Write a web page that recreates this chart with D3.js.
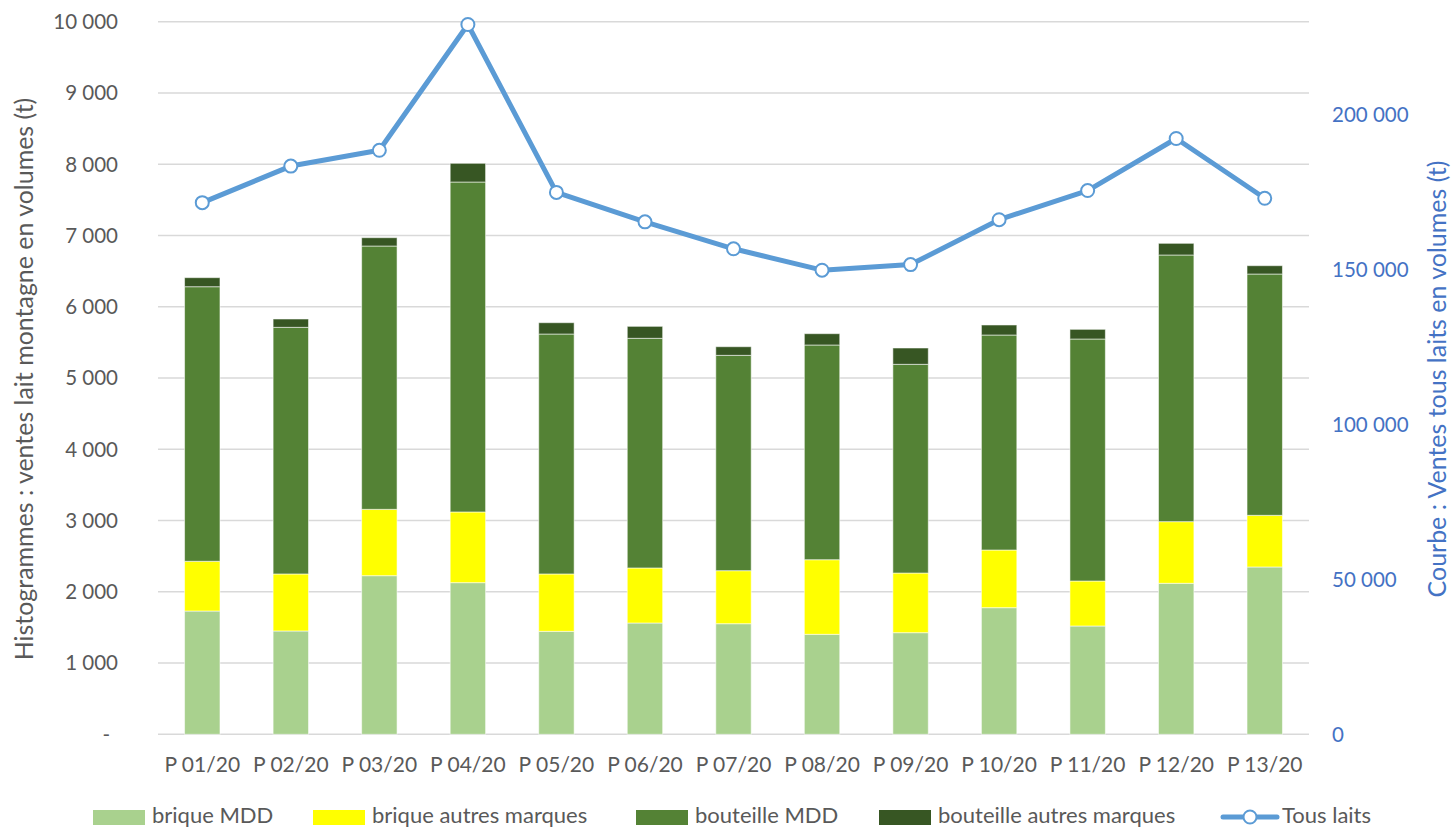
<!DOCTYPE html>
<html>
<head>
<meta charset="utf-8">
<script src="https://cdn.jsdelivr.net/npm/d3@7"></script>
<style>
  html, body { margin: 0; padding: 0; background: #fff; }
  svg text { font-family: Lato, "Open Sans", sans-serif; }
</style>
</head>
<body>
<svg id="chart" width="1451" height="829"></svg>
<script>
// Periods (4-week periods of 2020)
const periods = ["P 01/20","P 02/20","P 03/20","P 04/20","P 05/20","P 06/20","P 07/20",
                 "P 08/20","P 09/20","P 10/20","P 11/20","P 12/20","P 13/20"];

// Mountain milk sales by pack type (t)
const briqueMDD        = [1730,1450,2226,2128,1445,1562,1552,1403,1426,1777,1520,2119,2348];
const briqueAutres     = [ 698, 800, 931, 992, 805, 772, 744,1047, 837, 809, 631, 865, 725];
const bouteilleMDD     = [3853,3461,3695,4630,3367,3223,3022,3013,2929,3017,3396,3742,3386];
const bouteilleAutres  = [ 127, 117, 117, 263, 159, 168, 121, 159, 229, 141, 136, 164, 117];

// All milks sales (t), right axis
const tousLaits = [171600,183400,188500,229100,174900,165400,156700,149800,151600,166100,175500,192300,173000];

const leftTicks  = [0,1000,2000,3000,4000,5000,6000,7000,8000,9000,10000];
const rightTicks = [0,50000,100000,150000,200000];

const seriesNames  = ["brique MDD","brique autres marques","bouteille MDD","bouteille autres marques"];
const seriesColors = ["#A9D18E","#FFFF00","#548235","#375623"];
const lineName = "Tous laits";
const lineColor = "#5B9BD5";

const leftTitle  = "Histogrammes : ventes lait montagne en volumes (t)";
const rightTitle = "Courbe : Ventes tous laits en volumes (t)";

const svg = d3.select("#chart");
const plot = { left: 158, right: 1309, top: 21.7, bottom: 734.3 };

const x = d3.scaleBand().domain(periods).range([plot.left, plot.right]).paddingInner(0.6).paddingOuter(0.3);
const yL = d3.scaleLinear().domain([0, 10000]).range([plot.bottom, plot.top]);
const yR = d3.scaleLinear().domain([0, 230000]).range([plot.bottom, plot.top]);

const spaced = v => d3.format(",")(v).replace(/,/g, " ");

// Gridlines
svg.append("g").selectAll("line").data(leftTicks).join("line")
  .attr("x1", plot.left).attr("x2", plot.right)
  .attr("y1", d => yL(d)).attr("y2", d => yL(d))
  .attr("stroke", "#D9D9D9").attr("stroke-width", 1.5);

// Left axis labels
svg.append("g").selectAll("text").data(leftTicks).join("text")
  .attr("x", d => d === 0 ? 110 : 118).attr("y", d => yL(d)).attr("dy", "0.36em")
  .attr("text-anchor", "end").attr("font-size", 20.5).attr("fill", "#595959")
  .text(d => d === 0 ? "-" : spaced(d));

// Right axis labels
svg.append("g").selectAll("text").data(rightTicks).join("text")
  .attr("x", 1332).attr("y", d => yR(d)).attr("dy", "0.36em")
  .attr("text-anchor", "start").attr("font-size", 20.5).attr("fill", "#4472C4")
  .text(d => d === 0 ? "0" : spaced(d));

// X axis labels
svg.append("g").selectAll("text").data(periods).join("text")
  .attr("x", d => x(d) + x.bandwidth() / 2).attr("y", 772)
  .attr("text-anchor", "middle").attr("font-size", 21).attr("fill", "#595959")
  .text(d => d);

// Stacked bars
const rows = periods.map((p, i) => ({
  period: p,
  s0: briqueMDD[i], s1: briqueAutres[i], s2: bouteilleMDD[i], s3: bouteilleAutres[i]
}));
const stack = d3.stack().keys(["s0","s1","s2","s3"])(rows);

svg.append("g").selectAll("g").data(stack).join("g")
  .attr("fill", (d, i) => seriesColors[i])
  .selectAll("rect").data(d => d).join("rect")
  .attr("x", d => x(d.data.period))
  .attr("width", x.bandwidth())
  .attr("y", d => yL(d[1]))
  .attr("height", d => yL(d[0]) - yL(d[1]))
  .attr("stroke", "rgba(255,255,255,0.55)").attr("stroke-width", 1);

// Line series on right axis
const line = d3.line()
  .x((d, i) => x(periods[i]) + x.bandwidth() / 2)
  .y(d => yR(d));

svg.append("path").datum(tousLaits)
  .attr("d", line).attr("fill", "none")
  .attr("stroke", lineColor).attr("stroke-width", 5).attr("stroke-linejoin", "round");

svg.append("g").selectAll("circle").data(tousLaits).join("circle")
  .attr("cx", (d, i) => x(periods[i]) + x.bandwidth() / 2)
  .attr("cy", d => yR(d))
  .attr("r", 6.5).attr("fill", "#fff")
  .attr("stroke", lineColor).attr("stroke-width", 2);

// Axis titles, sized to span their intended length
function fitTitle(text, cx, cy, length, color) {
  const t = svg.append("text")
    .attr("transform", `translate(${cx},${cy}) rotate(-90)`)
    .attr("text-anchor", "middle").attr("font-size", 20).attr("fill", color)
    .text(text);
  const w = t.node().getComputedTextLength();
  t.attr("font-size", 20 * length / w);
}
fitTitle(leftTitle, 33, 379, 563, "#595959");
fitTitle(rightTitle, 1446, 379, 437, "#4472C4");

// Legend
const legendX = [93, 313, 636, 879];
const lg = svg.append("g");
seriesNames.forEach((name, i) => {
  lg.append("rect").attr("x", legendX[i]).attr("y", 810).attr("width", 52).attr("height", 15).attr("fill", seriesColors[i]);
  lg.append("text").attr("x", legendX[i] + 59).attr("y", 823).attr("font-size", 22).attr("fill", "#595959").text(name);
});
lg.append("line").attr("x1", 1223).attr("x2", 1277).attr("y1", 817).attr("y2", 817)
  .attr("stroke", lineColor).attr("stroke-width", 5).attr("stroke-linecap", "round");
lg.append("circle").attr("cx", 1250).attr("cy", 817).attr("r", 6.5)
  .attr("fill", "#fff").attr("stroke", lineColor).attr("stroke-width", 2);
lg.append("text").attr("x", 1282).attr("y", 823).attr("font-size", 22).attr("fill", "#595959").text(lineName);
</script>
</body>
</html>
